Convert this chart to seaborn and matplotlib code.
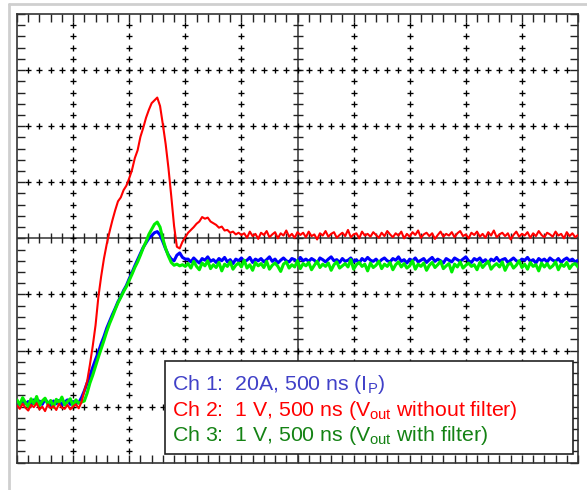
import numpy as np
import pandas as pd
import matplotlib
matplotlib.use("Agg")
import matplotlib.pyplot as plt
from matplotlib.patches import Rectangle
from matplotlib.lines import Line2D
import seaborn as sns

# ---------------- data (screen divisions, sampled every 25 ns) ----------------
sample_dt_ns = 25
ns_per_div = 500

red_baseline = [-2.98, -3.04, -2.95, -3.02, -3.07, -2.97, -3.01, -2.94, -3.05, -3.00,
                -3.08, -2.96, -3.03, -2.99, -3.06, -2.95, -3.02, -3.04, -2.97, -3.05,
                -3.00, -2.96, -3.03]
red_transient = [-2.92, -2.72, -2.55, -2.25, -1.92, -1.55, -1.05, -0.68, -0.36, -0.10,
                 0.12, 0.32, 0.50, 0.66, 0.73, 0.86, 0.94, 1.07, 1.22, 1.43,
                 1.57, 1.81, 1.97, 2.15, 2.29, 2.41, 2.46, 2.51, 2.36, 2.03,
                 1.68, 1.25, 0.75, 0.22, -0.15, -0.18, -0.06, 0.02, 0.10, 0.15,
                 0.20, 0.26, 0.30, 0.38, 0.35, 0.37, 0.30, 0.27, 0.24, 0.19,
                 0.21, 0.14, 0.15, 0.10, 0.12, 0.07, 0.10, 0.06]
red_steady = [0.09, 0.01, 0.12, 0.04, 0.08, -0.01, 0.10, 0.06, 0.13, 0.02,
              0.07, 0.11, 0.00, 0.09, 0.05, 0.14, 0.03, 0.08, 0.01, 0.11,
              0.06, 0.10, 0.02, 0.12, 0.04, 0.07, -0.02, 0.09, 0.05, 0.13,
              0.03, 0.08, 0.11, 0.01, 0.06, 0.10, 0.04, 0.15, 0.02, 0.07,
              0.09, 0.00, 0.12, 0.05, 0.08, 0.03, 0.11, 0.06, 0.01, 0.10,
              0.04, 0.13, 0.07, 0.02, 0.09, 0.05, 0.12, 0.00, 0.08, 0.03,
              0.11, 0.06, 0.14, 0.01, 0.07, 0.10, 0.04, 0.09, -0.01, 0.06,
              0.12, 0.03, 0.08, 0.05, 0.11, 0.02, 0.09, 0.13, 0.04, 0.07,
              0.00, 0.10, 0.06, 0.12, 0.03, 0.08, 0.01, 0.11, 0.05, 0.14,
              0.02, 0.07, 0.10, 0.04, 0.09, -0.02, 0.06, 0.12, 0.03, 0.08,
              0.05, 0.11, 0.01, 0.09, 0.04, 0.13, 0.06, 0.02, 0.10, 0.07,
              0.03, 0.12, 0.05, 0.08, 0.00, 0.11, 0.04, 0.09, 0.02, 0.06]

blue_baseline = [-2.92, -2.97, -2.89, -2.95, -2.91, -2.98, -2.88, -2.94, -2.90, -2.96,
                 -2.87, -2.93, -2.99, -2.90, -2.95, -2.89, -2.97, -2.92, -2.88, -2.96,
                 -2.91, -2.94, -2.93]
blue_transient = [-2.84, -2.72, -2.58, -2.45, -2.30, -2.16, -2.03, -1.88, -1.75, -1.60,
                  -1.48, -1.36, -1.25, -1.13, -1.04, -0.93, -0.84, -0.72, -0.61, -0.49,
                  -0.38, -0.27, -0.16, -0.08, 0.00, 0.05, 0.10, 0.12, 0.06, -0.06,
                  -0.19, -0.30, -0.37, -0.40, -0.30, -0.26, -0.34, -0.37]
blue_steady = [-0.37, -0.42, -0.35, -0.40, -0.44, -0.36, -0.39, -0.33, -0.41, -0.38,
               -0.43, -0.36, -0.40, -0.34, -0.42, -0.38, -0.45, -0.37, -0.40, -0.35,
               -0.41, -0.39, -0.34, -0.43, -0.37, -0.40, -0.36, -0.42, -0.38, -0.33,
               -0.41, -0.37, -0.44, -0.39, -0.35, -0.40, -0.42, -0.36, -0.38, -0.43,
               -0.34, -0.40, -0.37, -0.41, -0.36, -0.39, -0.44, -0.35, -0.38, -0.42,
               -0.37, -0.33, -0.40, -0.38, -0.43, -0.36, -0.41, -0.39, -0.35, -0.42,
               -0.38, -0.44, -0.36, -0.40, -0.34, -0.39, -0.41, -0.37, -0.43, -0.38,
               -0.35, -0.40, -0.42, -0.36, -0.39, -0.33, -0.41, -0.38, -0.44, -0.37,
               -0.40, -0.35, -0.42, -0.39, -0.36, -0.43, -0.38, -0.34, -0.41, -0.37,
               -0.40, -0.44, -0.36, -0.39, -0.42, -0.35, -0.38, -0.41, -0.37, -0.33,
               -0.40, -0.43, -0.36, -0.39, -0.35, -0.42, -0.38, -0.44, -0.37, -0.40,
               -0.34, -0.41, -0.38, -0.36, -0.43, -0.39, -0.35, -0.40, -0.42, -0.37,
               -0.39, -0.34, -0.41, -0.38, -0.44, -0.36, -0.40, -0.37, -0.42, -0.35,
               -0.39, -0.41, -0.36, -0.43, -0.38, -0.35, -0.40, -0.37, -0.42, -0.39]

green_baseline = [-2.88, -2.97, -2.84, -2.93, -3.00, -2.86, -2.95, -2.82, -2.98, -2.90,
                  -2.85, -2.96, -2.89, -3.01, -2.87, -2.93, -2.83, -2.97, -2.91, -2.86,
                  -2.99, -2.88, -2.94]
green_transient = [-2.92, -2.90, -2.76, -2.58, -2.44, -2.28, -2.12, -1.97, -1.82, -1.66,
                   -1.52, -1.40, -1.27, -1.15, -1.05, -0.95, -0.86, -0.75, -0.64, -0.52,
                   -0.42, -0.30, -0.17, -0.06, 0.07, 0.16, 0.25, 0.29, 0.20, -0.01,
                   -0.18, -0.32, -0.43, -0.48, -0.46, -0.49, -0.47, -0.50]
green_steady = [-0.45, -0.53, -0.41, -0.50, -0.56, -0.44, -0.49, -0.40, -0.54, -0.47,
                -0.52, -0.43, -0.58, -0.46, -0.50, -0.42, -0.55, -0.48, -0.44, -0.51,
                -0.39, -0.53, -0.47, -0.57, -0.43, -0.49, -0.45, -0.52, -0.41, -0.55,
                -0.48, -0.44, -0.50, -0.59, -0.46, -0.42, -0.53, -0.47, -0.51, -0.40,
                -0.54, -0.45, -0.49, -0.43, -0.56, -0.48, -0.41, -0.52, -0.46, -0.50,
                -0.44, -0.57, -0.47, -0.42, -0.53, -0.49, -0.45, -0.51, -0.38, -0.55,
                -0.47, -0.43, -0.50, -0.46, -0.58, -0.44, -0.52, -0.48, -0.41, -0.54,
                -0.46, -0.50, -0.43, -0.56, -0.47, -0.42, -0.51, -0.45, -0.53, -0.49,
                -0.40, -0.55, -0.46, -0.50, -0.44, -0.57, -0.48, -0.43, -0.52, -0.47,
                -0.41, -0.54, -0.49, -0.45, -0.60, -0.46, -0.51, -0.42, -0.53, -0.48,
                -0.44, -0.50, -0.47, -0.56, -0.43, -0.52, -0.46, -0.41, -0.55, -0.49,
                -0.45, -0.51, -0.42, -0.57, -0.47, -0.44, -0.53, -0.48, -0.40, -0.52,
                -0.46, -0.55, -0.43, -0.50, -0.47, -0.58, -0.44, -0.51, -0.45, -0.53,
                -0.49, -0.42, -0.56, -0.46, -0.50, -0.43, -0.54, -0.47, -0.45, -0.51]

channels = ["Ch 1", "Ch 2", "Ch 3"]
channel_labels = [r"Ch 1:  20A, 500 ns (I$_\mathrm{P}$)",
                  r"Ch 2:  1 V, 500 ns (V$_\mathrm{out}$ without filter)",
                  r"Ch 3:  1 V, 500 ns (V$_\mathrm{out}$ with filter)"]

# ---------------- style ----------------
sns.set_style("white")
plt.rcParams["font.family"] = ["Liberation Sans", "DejaVu Sans"]
plt.rcParams["mathtext.fontset"] = "custom"
plt.rcParams["mathtext.rm"] = "Liberation Sans"
plt.rcParams["mathtext.it"] = "Liberation Sans:italic"
plt.rcParams["mathtext.bf"] = "Liberation Sans:bold"

trace_colors = {"Ch 1": "#0000ff", "Ch 2": "#ff0000", "Ch 3": "#00ee00"}
trace_widths = {"Ch 1": 2.2, "Ch 2": 1.5, "Ch 3": 2.2}
text_colors = ["#4040c8", "#ff0000", "#148214"]

series = {
    "Ch 1": blue_baseline + blue_transient + blue_steady,
    "Ch 2": red_baseline + red_transient + red_steady,
    "Ch 3": green_baseline + green_transient + green_steady,
}
frames = []
for ch, vals in series.items():
    t = np.arange(len(vals)) * sample_dt_ns
    frames.append(pd.DataFrame({"time_ns": t, "div": vals, "channel": ch}))
df = pd.concat(frames, ignore_index=True)

W, H = 587, 490
fig = plt.figure(figsize=(W / 100, H / 100), dpi=100)
fig.patch.set_facecolor("white")
left_px, right_px, top_px, bottom_px = 17, 578, 14, 462.7
ax = fig.add_axes([left_px / W, 1 - bottom_px / H, (right_px - left_px) / W, (bottom_px - top_px) / H])
ax.set_xlim(0, 10 * ns_per_div)
ax.set_ylim(-4, 4)

# graticule
gcol = "#222222"
for s in ax.spines.values():
    s.set_color("#333333")
    s.set_linewidth(1.2)
ax.set_xticks(np.arange(0, 5001, 500))
ax.set_xticks(np.arange(0, 5001, 100), minor=True)
ax.set_yticks(np.arange(-4, 4.01, 1))
ax.set_yticks(np.arange(-4, 4.01, 0.2), minor=True)
ax.tick_params(which="both", direction="in", length=5.5, width=1.0, color=gcol,
               top=True, right=True, bottom=True, left=True,
               labelbottom=False, labelleft=False)
ax.axhline(0, color="#333333", lw=1.1, zorder=1)
ax.axvline(2500, color="#333333", lw=1.1, zorder=1)
xs_minor = np.arange(100, 5000, 100)
ys_minor = np.arange(-3.8, 3.81, 0.2)
ax.plot(xs_minor, np.zeros_like(xs_minor, dtype=float), ls="none", marker="|",
        ms=6.5, mew=1.0, color=gcol, zorder=1)
ax.plot(np.full_like(ys_minor, 2500), ys_minor, ls="none", marker="_",
        ms=6.5, mew=1.0, color=gcol, zorder=1)
for k in range(1, 10):
    if k == 5:
        continue
    ax.plot(np.full_like(ys_minor, k * 500), ys_minor, ls="none", marker="+",
            ms=4.0, mew=0.95, color="black", zorder=1)
for j in range(-3, 4):
    if j == 0:
        continue
    ax.plot(xs_minor, np.full(len(xs_minor), float(j)), ls="none", marker="+",
            ms=4.0, mew=0.95, color="black", zorder=1)

# traces
for ch in ["Ch 1", "Ch 3", "Ch 2"]:
    sub = df[df["channel"] == ch]
    sns.lineplot(data=sub, x="time_ns", y="div", color=trace_colors[ch],
                 linewidth=trace_widths[ch], estimator=None, sort=False,
                 legend=False, ax=ax, zorder=3)
ax.set_xlabel("")
ax.set_ylabel("")

# outer light-gray frame
fig.add_artist(Line2D([8.5 / W, 1], [1 - 4.5 / H, 1 - 4.5 / H], transform=fig.transFigure,
                      color="#cfcfcf", lw=2.0))
fig.add_artist(Line2D([8.5 / W, 8.5 / W], [0, 1 - 4.5 / H], transform=fig.transFigure,
                      color="#cfcfcf", lw=2.0))

# label box
bx0, by0, bx1, by1 = 164.7, 361, 573.3, 454
fig.add_artist(Rectangle((bx0 / W, 1 - by1 / H), (bx1 - bx0) / W, (by1 - by0) / H,
                         transform=fig.transFigure, facecolor="white",
                         edgecolor="#222222", lw=1.2, zorder=5))
baselines = [390, 415.5, 441]
for lab, col, yb in zip(channel_labels, text_colors, baselines):
    fig.text(172.5 / W, 1 - yb / H, lab, color=col, fontsize=15.3,
             ha="left", va="baseline", zorder=6)

fig.savefig("out.png", dpi=100, facecolor="white")
